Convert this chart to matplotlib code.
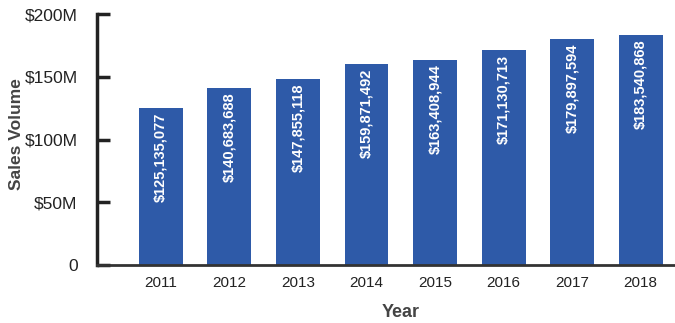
import matplotlib.pyplot as plt

years = ["2011", "2012", "2013", "2014", "2015", "2016", "2017", "2018"]
sales = [125135077, 140683688, 147855118, 159871492, 163408944,
         171130713, 179897594, 183540868]
ytick_vals = [0, 50e6, 100e6, 150e6, 200e6]
ytick_labels = ["0", "$50M", "$100M", "$150M", "$200M"]

plt.rcParams['font.family'] = ['Liberation Sans', 'DejaVu Sans']

fig = plt.figure(figsize=(6.75, 3.23), dpi=100)
ax = fig.add_axes([97 / 675, 1 - 265 / 323, 1 - 97 / 675, (265 - 14) / 323])

x = range(len(years))
ax.bar(x, sales, width=0.64, color="#2E5AA8", zorder=2)

# value labels inside the bars
for xi, v in zip(x, sales):
    ax.text(xi, v - 3.5e6, "${:,}".format(v), rotation=90, ha="center", va="top",
            color="white", fontsize=10.5, fontweight="bold")

ax.set_xlim(-0.93, 7.5)
ax.set_ylim(0, 200e6)
ax.set_xticks(list(x))
ax.set_xticklabels(years)
ax.set_yticks(ytick_vals)
ax.set_yticklabels(ytick_labels)

ax.spines["top"].set_visible(False)
ax.spines["right"].set_visible(False)
ax.spines["left"].set_linewidth(2.5)
ax.spines["left"].set_color("#222222")
ax.spines["bottom"].set_linewidth(2)
ax.spines["bottom"].set_color("#333333")

ax.tick_params(axis="y", direction="in", length=9, width=2.5, color="#222222",
               pad=14, labelsize=12.5, labelcolor="#222222")
ax.tick_params(axis="x", length=0, pad=8, labelsize=11, labelcolor="#222222")

ax.set_ylabel("Sales Volume", fontsize=12.5, fontweight="bold", color="#444444")
ax.set_xlabel("Year", fontsize=13, fontweight="bold", color="#444444")
ax.yaxis.set_label_coords(-0.126, 0.52)
ax.xaxis.set_label_coords(0.526, -0.155)

fig.savefig("out.png", dpi=100)
